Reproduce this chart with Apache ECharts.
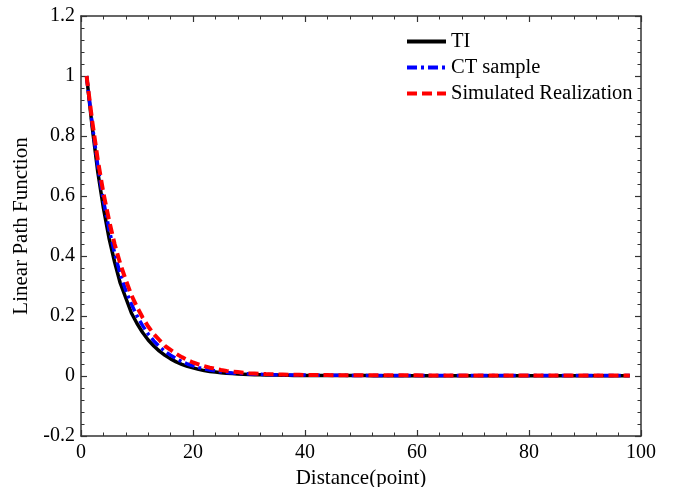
<!DOCTYPE html>
<html><head><meta charset="utf-8">
<script src="https://cdn.jsdelivr.net/npm/echarts@6/dist/echarts.min.js"></script>
<style>html,body{margin:0;padding:0;background:#fff}#c{width:674px;height:487px}</style>
</head><body><div id="c"></div>
<script>
// Distance (points) 1..98
const distance = [];
for (let i = 1; i <= 98; i++) distance.push(i);

const tiValues = [1.0,0.83,0.68,0.56,0.46,0.38,0.31,0.26,0.21,0.175,
0.145,0.12,0.10,0.083,0.069,0.057,0.047,0.039,0.032,0.027,
0.022,0.018,0.015,0.013,0.011,0.009,0.008,0.007,0.006,0.005,
0.0045,0.004,0.0035,0.003,0.003,0.0025,0.0025,0.002,0.002,0.002,
0.002,0.0018,0.0018,0.0016,0.0016,0.0015,0.0015,0.0014,0.0014,0.0013,
0.0013,0.0012,0.0012,0.0012,0.0011,0.0011,0.0011,0.001,0.001,0.001,
0.001,0.001,0.001,0.001,0.001,0.001,0.001,0.001,0.001,0.001,
0.001,0.001,0.001,0.001,0.001,0.001,0.001,0.001,0.001,0.001,
0.001,0.001,0.001,0.001,0.001,0.001,0.001,0.001,0.001,0.001,
0.001,0.001,0.001,0.001,0.001,0.001,0.001,0.001];

const ctValues = [1.0,0.84,0.70,0.585,0.49,0.41,0.34,0.285,0.24,0.20,
0.168,0.14,0.117,0.098,0.082,0.069,0.058,0.048,0.040,0.034,
0.028,0.024,0.020,0.017,0.014,0.012,0.010,0.009,0.008,0.007,
0.006,0.0055,0.005,0.0045,0.004,0.0038,0.0035,0.0032,0.003,0.003,
0.0028,0.0026,0.0025,0.0024,0.0023,0.0022,0.0021,0.002,0.002,0.002,
0.002,0.002,0.002,0.002,0.002,0.002,0.002,0.002,0.002,0.002,
0.002,0.002,0.002,0.002,0.002,0.002,0.002,0.002,0.002,0.002,
0.002,0.002,0.002,0.002,0.002,0.002,0.002,0.002,0.002,0.002,
0.002,0.002,0.002,0.002,0.002,0.002,0.002,0.002,0.002,0.002,
0.002,0.002,0.002,0.002,0.002,0.002,0.002,0.002];

const simValues = [1.0,0.85,0.72,0.61,0.52,0.44,0.375,0.32,0.27,0.23,
0.195,0.165,0.14,0.12,0.10,0.087,0.074,0.063,0.053,0.045,
0.039,0.033,0.028,0.024,0.020,0.017,0.015,0.013,0.011,0.0095,
0.0085,0.0075,0.0065,0.006,0.0055,0.005,0.0045,0.004,0.004,0.0035,
0.0035,0.003,0.003,0.003,0.0028,0.0028,0.0026,0.0026,0.0025,0.0025,
0.0025,0.0024,0.0024,0.0023,0.0023,0.0022,0.0022,0.0022,0.0021,0.0021,
0.002,0.002,0.002,0.002,0.002,0.002,0.002,0.002,0.002,0.002,
0.002,0.002,0.002,0.002,0.002,0.002,0.002,0.002,0.002,0.002,
0.002,0.002,0.002,0.002,0.002,0.002,0.002,0.002,0.002,0.002,
0.002,0.002,0.002,0.002,0.002,0.002,0.002,0.002];

const seriesNames = ['TI','CT sample','Simulated Realization'];

const pairs = v => distance.map((d, i) => [d, v[i]]);
const font = 'Liberation Serif';
const axisCol = '#333';

const chart = echarts.init(document.getElementById('c'), null, {renderer: 'canvas'});
const baseAxis = {
  axisLine: {show: true, onZero: false, lineStyle: {color: axisCol, width: 1.5}},
  axisTick: {show: true, inside: true, length: 6, lineStyle: {color: axisCol, width: 1.2}},
  minorTick: {show: true, splitNumber: 5, length: 3.5, lineStyle: {color: axisCol, width: 1}},
  splitLine: {show: false},
};
chart.setOption({
  animation: false,
  backgroundColor: '#fff',
  grid: {left: 81, right: 33, top: 16, bottom: 51, containLabel: false, outerBoundsMode: 'none'},
  legend: {
    orient: 'vertical', left: 400, top: 26,
    itemWidth: 39, itemHeight: 21, itemGap: 5,
    itemStyle: {opacity: 0},
    lineStyle: {width: 4},
    textStyle: {fontFamily: font, fontSize: 20.5, lineHeight: 21, color: '#000'},
    data: seriesNames
  },
  xAxis: [
    Object.assign({}, baseAxis, {
      type: 'value', min: 0, max: 100, interval: 20,
      name: 'Distance(point)', nameLocation: 'middle', nameGap: 18,
      nameTextStyle: {fontFamily: font, fontSize: 21, color: '#000'},
      axisLabel: {fontFamily: font, fontSize: 20, color: '#000', margin: 7}
    }),
    Object.assign({}, baseAxis, {
      type: 'value', min: 0, max: 100, interval: 20, position: 'top',
      axisLabel: {show: false}
    })
  ],
  yAxis: [
    Object.assign({}, baseAxis, {
      type: 'value', min: -0.2, max: 1.2, interval: 0.2,
      name: 'Linear Path Function', nameLocation: 'middle', nameGap: 46,
      nameTextStyle: {fontFamily: font, fontSize: 21, color: '#000'},
      axisLabel: {fontFamily: font, fontSize: 20, color: '#000', margin: 6,
        formatter: v => String(Math.round(v * 10) / 10)}
    }),
    Object.assign({}, baseAxis, {
      type: 'value', min: -0.2, max: 1.2, interval: 0.2, position: 'right',
      axisLabel: {show: false}
    })
  ],
  series: [
    {name: seriesNames[0], type: 'line', data: pairs(tiValues), showSymbol: false, symbol: 'none',
     lineStyle: {color: '#000', width: 3.5, type: 'solid'}, itemStyle: {color: '#000'}},
    {name: seriesNames[1], type: 'line', data: pairs(ctValues), showSymbol: false, symbol: 'none',
     lineStyle: {color: '#0000ff', width: 3.5, type: [10, 4, 3, 4]}, itemStyle: {color: '#0000ff'}},
    {name: seriesNames[2], type: 'line', data: pairs(simValues), showSymbol: false, symbol: 'none',
     lineStyle: {color: '#ff0000', width: 4, type: [10, 5]}, itemStyle: {color: '#ff0000'}}
  ]
});
</script></body></html>
